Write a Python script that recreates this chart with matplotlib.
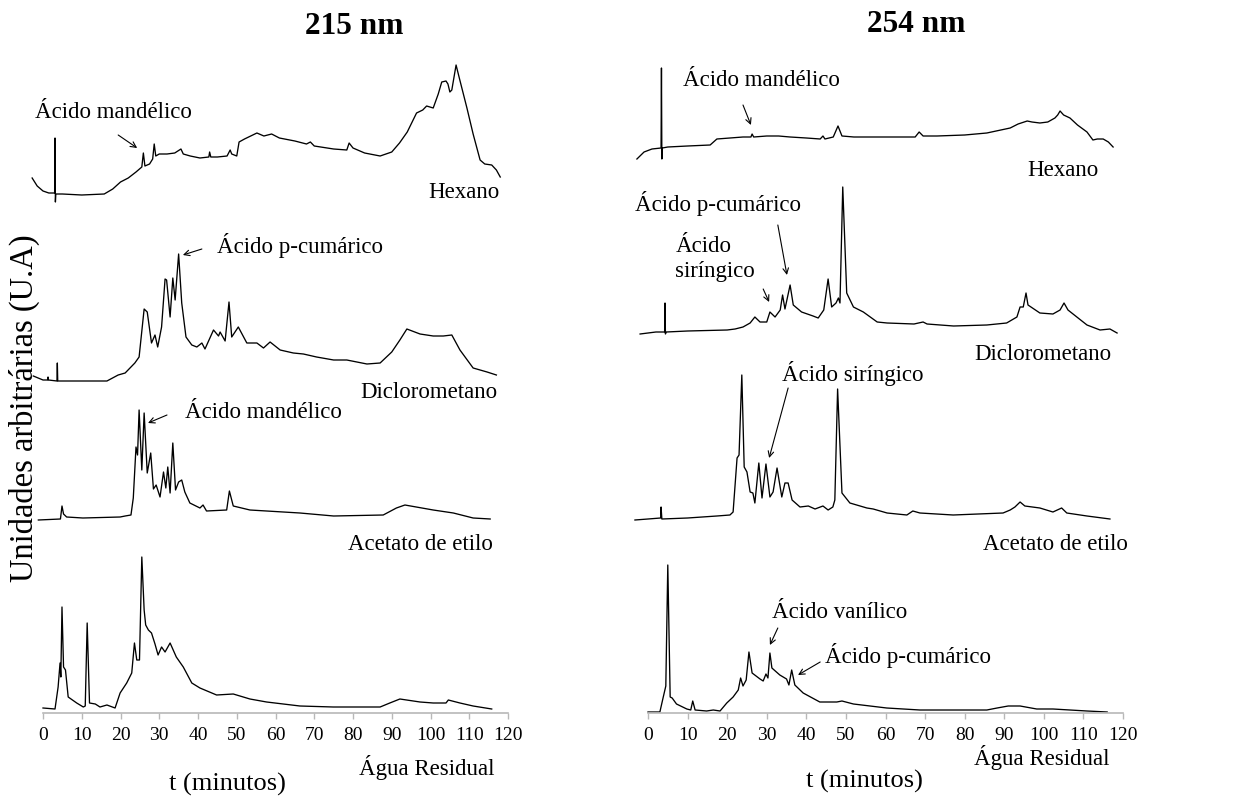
import matplotlib
matplotlib.use("Agg")
import matplotlib.pyplot as plt

plt.rcParams['font.family'] = ['Liberation Serif', 'DejaVu Serif']

# ---- 215 nm chromatograms (time in min, signal in arbitrary units) ----
t_hex_215 = [-2.8, -1.5, 0, 1.5, 3.0, 3.1, 3.2, 3.3, 5, 10, 15.8, 18, 20, 22, 24,
             25.5, 25.9, 26.3, 27.5, 28.3, 28.7, 29.1, 30, 32, 34, 35.6, 36.2, 38, 40.5, 42.8,
             43, 43.3, 45, 47.5, 48.3, 48.7, 50, 50.6, 52, 55.2, 57, 59, 61, 65, 68,
             69, 70, 75, 78.4, 79, 80, 83, 87, 90, 92, 94, 96.4, 98, 99, 100.7,
             102, 102.9, 104, 104.5, 105, 105.5, 106.6, 107.5, 109.4, 111, 112.8, 114, 115.8, 117, 118]
i_hex_215 = [16, 8, 3, 1, 1, 56, -8, 0, 0, -1, 0, 5, 12, 16, 22,
             27, 41, 28, 30, 35, 50, 38, 40, 40, 41, 45, 40, 38, 36, 37,
             42, 37, 37, 38, 44, 40, 38, 52, 55, 61, 58, 60, 56, 53, 50,
             52, 48, 45, 44, 51, 46, 41, 38, 42, 51, 62, 81, 84, 88, 86,
             100, 112, 113, 110, 102, 104, 129, 115, 86, 60, 34, 30, 29, 24, 17]

t_dcm_215 = [-2.5, 0, 1.2, 1.3, 1.4, 3.6, 3.7, 3.8, 10, 16.5, 19.4, 21.2, 23.7, 24.8, 26.1,
             26.9, 28, 28.9, 29.6, 30.6, 31.5, 31.9, 32.8, 33.5, 34.1, 35, 35.8, 36.9, 38.4, 39.7,
             41, 41.8, 44, 45.3, 45.7, 47, 48, 48.7, 50.4, 52.6, 55.2, 56.9, 58.6, 61.2, 64.6,
             67.2, 70.6, 75, 78.4, 83.6, 87, 90, 92.1, 93.9, 97.3, 100.7, 103.3, 105.5, 107.6, 111,
             114.6, 117]
i_dcm_215 = [5, 1, 1, 4, 1, 0, 18, 0, 0, 0, 6, 8, 18, 24, 72,
             69, 38, 46, 34, 54, 102, 101, 64, 103, 81, 127, 78, 44, 36, 34,
             38, 32, 51, 45, 49, 40, 79, 44, 54, 38, 38, 33, 39, 31, 28,
             27, 24, 21, 21, 17, 18, 29, 41, 52, 47, 45, 45, 46, 31, 13,
             9, 6]

t_ace_215 = [-1.2, 4.5, 4.9, 5.3, 6.1, 10.3, 19.9, 21.2, 22.7, 23.3, 24, 24.4, 24.8, 25.5, 26.1,
             26.9, 27.8, 28.5, 29.2, 30.2, 31.1, 31.7, 32.2, 32.8, 33.5, 34.2, 35, 35.8, 36.6, 37.9,
             40.5, 41.3, 42.2, 47.4, 48.1, 49.1, 53.4, 66.3, 75, 87.8, 91.2, 93.4, 100.7, 105.9, 111,
             115.4]
i_ace_215 = [0, 1, 14, 6, 3, 2, 3, 4, 5, 22, 73, 65, 110, 50, 107,
             47, 67, 31, 35, 23, 48, 32, 53, 27, 77, 30, 38, 40, 28, 17,
             12, 15, 9, 10, 29, 14, 10, 7, 4, 5, 12, 15, 10, 7, 2,
             1]

t_agua_215 = [0, 3.1, 3.9, 4.4, 4.6, 4.9, 5.3, 5.8, 6.5, 8.7, 10.4, 10.9, 11.4, 12, 13.5,
              14.7, 16.5, 18.6, 19.9, 21.6, 22.9, 23.6, 24.2, 24.9, 25.5, 26.1, 26.5, 27.2, 28, 28.9,
              29.7, 30.6, 31.5, 32.8, 34.4, 36.2, 38.4, 40.5, 44.8, 49.1, 53.4, 57.7, 66.3, 74.9, 87,
              89.5, 92.1, 97.3, 100.7, 104, 104.6, 107.6, 111, 115.8]
i_agua_215 = [1, 0, 22, 46, 32, 102, 42, 39, 12, 6, 2, 3, 86, 6, 5,
              2, 4, 1, 16, 26, 36, 66, 49, 49, 152, 99, 84, 79, 76, 65,
              54, 62, 57, 66, 52, 42, 26, 21, 14, 15, 10, 7, 3, 2, 2,
              6, 10, 7, 6, 6, 9, 6, 3, 0]

# ---- 254 nm chromatograms ----
t_hex_254 = [-2.8, -1, 1, 3.3, 3.4, 3.5, 3.6, 5, 10, 15.7, 17.4, 20.7, 24, 26, 26.3,
             26.7, 30, 33, 35.9, 40, 43.5, 44.2, 44.7, 46.8, 48, 49, 52, 56, 60, 67.5,
             68.5, 69.5, 73, 80, 85.6, 91.5, 93.5, 95.8, 97, 99, 101, 102.8, 103.5, 104.1, 105,
             106.6, 108.5, 110.9, 112.4, 113.5, 115, 116.3, 117.5]
i_hex_254 = [-12, -5, -2, -1, 79, -12, -1, 0, 1, 2, 8, 9, 10, 10, 13,
             10, 11, 11, 10, 9, 8, 11, 8, 10, 21, 11, 10, 10, 10, 10,
             15, 11, 11, 12, 14, 19, 23, 26, 25, 24, 25, 29, 32, 36, 32,
             29, 22, 15, 7, 8, 8, 5, 0]

t_dcm_254 = [-2, 0, 2, 4.2, 4.3, 4.4, 4.6, 10, 20, 22, 24, 25.8, 27, 28.3, 30,
             30.8, 32.1, 33.4, 34, 34.6, 35.9, 36.7, 38.8, 41.7, 43, 44.4, 45.5, 46.4, 47.5, 48.1,
             48.5, 49.2, 50.2, 51.9, 54.4, 57.9, 60.4, 67.2, 69.5, 70.5, 77.2, 85.6, 90.6, 93.2, 94,
             94.8, 95.5, 96, 99, 102.3, 104.1, 105.1, 106.1, 110.9, 114.2, 116.7, 118.5]
i_dcm_254 = [-2, -1, 0, 0, 29, -2, 0, 1, 2, 3, 5, 9, 15, 10, 10,
             20, 15, 22, 37, 23, 47, 27, 20, 16, 14, 22, 53, 25, 29, 34,
             29, 145, 39, 25, 20, 10, 9, 8, 10, 8, 6, 7, 9, 15, 25,
             25, 39, 27, 19, 18, 22, 29, 22, 7, 2, 3, -1]

t_ace_254 = [-3.3, 0, 3.2, 3.3, 3.5, 10, 17.4, 20.7, 21.5, 22.5, 23, 23.7, 24.3, 25, 25.8,
             26.5, 27, 28, 28.8, 29.8, 30.8, 31.6, 32.6, 33.8, 34.6, 35.4, 36.4, 38.4, 40.5, 42.2,
             44.2, 45.5, 46.7, 47.2, 47.9, 49, 51, 55.3, 56.9, 60.4, 65.4, 66.9, 68.7, 77.1, 89.7,
             91.5, 92.7, 94, 95.2, 99, 102.3, 104.5, 105.8, 110.9, 116.7]
i_ace_254 = [-2, -1, 0, 11, -1, 0, 2, 3, 6, 60, 63, 143, 51, 46, 26,
             25, 15, 55, 20, 54, 21, 26, 50, 21, 35, 35, 18, 11, 12, 9,
             12, 8, 11, 18, 129, 25, 15, 10, 9, 5, 3, 7, 5, 3, 5,
             8, 11, 16, 12, 10, 6, 10, 5, 2, -1]

t_agua_254 = [0, 3, 3.8, 4.5, 5, 5.6, 6.1, 7.2, 9.8, 10.8, 11.3, 11.9, 14.8, 16.5, 18.2,
              19.9, 21.5, 22.8, 23.4, 24, 24.8, 25.5, 26.3, 28.3, 29.1, 29.8, 30.3, 30.8, 31.3, 33.3,
              35, 35.6, 36.3, 37.1, 39.2, 43.4, 47.7, 49, 51.9, 60.3, 68.7, 85.6, 88.2, 91, 94,
              98.2, 102.3, 110.9, 116]
i_agua_254 = [0, 0, 14, 26, 147, 15, 14, 8, 3, 2, 11, 2, 1, 2, 1,
              9, 15, 22, 34, 26, 32, 60, 39, 33, 31, 38, 34, 59, 44, 37,
              33, 27, 42, 27, 19, 10, 10, 11, 8, 4, 2, 2, 4, 6, 6,
              3, 3, 1, 0]

solvents = ['Hexano', 'Diclorometano', 'Acetato de etilo', 'Água Residual']
offsets_215 = [519, 332, 193, 4]
offsets_254 = [566, 381, 195, 1]

W, H = 1234, 796
fig = plt.figure(figsize=(W / 100, H / 100), dpi=100)
ax1 = fig.add_axes([43 / W, 83 / H, 465 / W, 663 / H])
ax2 = fig.add_axes([648 / W, 83 / H, 475 / W, 663 / H])

traces_215 = [(t_hex_215, i_hex_215), (t_dcm_215, i_dcm_215), (t_ace_215, i_ace_215), (t_agua_215, i_agua_215)]
traces_254 = [(t_hex_254, i_hex_254), (t_dcm_254, i_dcm_254), (t_ace_254, i_ace_254), (t_agua_254, i_agua_254)]

for ax, traces, offs in [(ax1, traces_215, offsets_215), (ax2, traces_254, offsets_254)]:
    for (t, sig), off in zip(traces, offs):
        ax.plot(t, [v + off for v in sig], color='black', lw=0.95, clip_on=False)
    ax.set_xlim(0, 120)
    ax.set_ylim(0, 663)
    ax.set_xticks(range(0, 121, 10))
    for s in ['top', 'right', 'left']:
        ax.spines[s].set_visible(False)
    ax.spines['bottom'].set_color('#b8b8b8')
    ax.spines['bottom'].set_linewidth(1.2)
    ax.set_yticks([])
    ax.tick_params(axis='x', direction='out', length=4, width=1, color='#b8b8b8',
                   labelsize=14, pad=6)
    ax.patch.set_visible(False)

fs = 16.5
arrow = dict(arrowstyle='->', lw=0.8, color='black', shrinkA=0, shrinkB=0, mutation_scale=10)

# 215 nm labels
ax1.text(-2.1, 601, 'Ácido mandélico', fontsize=fs, ha='left', va='center')
ax1.annotate('', xy=(24.3, 565), xytext=(19.4, 578), arrowprops=arrow, annotation_clip=False)
ax1.text(117.9, 520, solvents[0], fontsize=fs, ha='right', va='center')
ax1.text(44.9, 468, 'Ácido p-cumárico', fontsize=fs, ha='left', va='center')
ax1.annotate('', xy=(36.1, 458), xytext=(41, 464), arrowprops=arrow)
ax1.text(117.2, 320, solvents[1], fontsize=fs, ha='right', va='center')
ax1.text(36.6, 300, 'Ácido mandélico', fontsize=fs, ha='left', va='center')
ax1.annotate('', xy=(27.1, 290), xytext=(32, 298), arrowprops=arrow)
ax1.text(116.1, 169, solvents[2], fontsize=fs, ha='right', va='center')
ax1.text(116.6, -54, solvents[3], fontsize=fs, ha='right', va='center', clip_on=False)
ax1.text(47.7, -71, 't (minutos)', fontsize=19, ha='center', va='center', clip_on=False)

# 254 nm labels
ax2.text(8.8, 633, 'Ácido mandélico', fontsize=fs, ha='left', va='center')
ax2.annotate('', xy=(26, 588), xytext=(24, 608), arrowprops=arrow)
ax2.text(113.7, 543, solvents[0], fontsize=fs, ha='right', va='center')
ax2.text(-3.3, 510, 'Ácido p-cumárico', fontsize=fs, ha='left', va='center')
ax2.annotate('', xy=(35.1, 438), xytext=(32.8, 488), arrowprops=arrow)
ax2.text(7.1, 466, 'Ácido', fontsize=fs, ha='left', va='center')
ax2.text(6.8, 441, 'siríngico', fontsize=fs, ha='left', va='center')
ax2.annotate('', xy=(30.6, 411), xytext=(29.1, 424), arrowprops=arrow)
ax2.text(117.2, 358, solvents[1], fontsize=fs, ha='right', va='center')
ax2.text(33.9, 340, 'Ácido siríngico', fontsize=fs, ha='left', va='center')
ax2.annotate('', xy=(30.6, 255), xytext=(35.4, 325), arrowprops=arrow)
ax2.text(121.3, 168, solvents[2], fontsize=fs, ha='right', va='center', clip_on=False)
ax2.text(31.3, 101, 'Ácido vanílico', fontsize=fs, ha='left', va='center')
ax2.annotate('', xy=(30.8, 68), xytext=(32.8, 85), arrowprops=arrow)
ax2.text(44.7, 57, 'Ácido p-cumárico', fontsize=fs, ha='left', va='center')
ax2.annotate('', xy=(37.9, 38), xytext=(43.5, 51), arrowprops=arrow)
ax2.text(116.7, -45, solvents[3], fontsize=fs, ha='right', va='center', clip_on=False)
ax2.text(54.6, -68, 't (minutos)', fontsize=19, ha='center', va='center', clip_on=False)

fig.text(354 / W, 1 - 27 / H, '215 nm', fontsize=22.5, fontweight='bold', ha='center', va='center')
fig.text(916 / W, 1 - 24 / H, '254 nm', fontsize=22.5, fontweight='bold', ha='center', va='center')
fig.text(24 / W, 1 - 408 / H, 'Unidades arbitrárias (U.A)', fontsize=23.5, rotation=90,
         ha='center', va='center')

fig.savefig('out.png', dpi=100)
